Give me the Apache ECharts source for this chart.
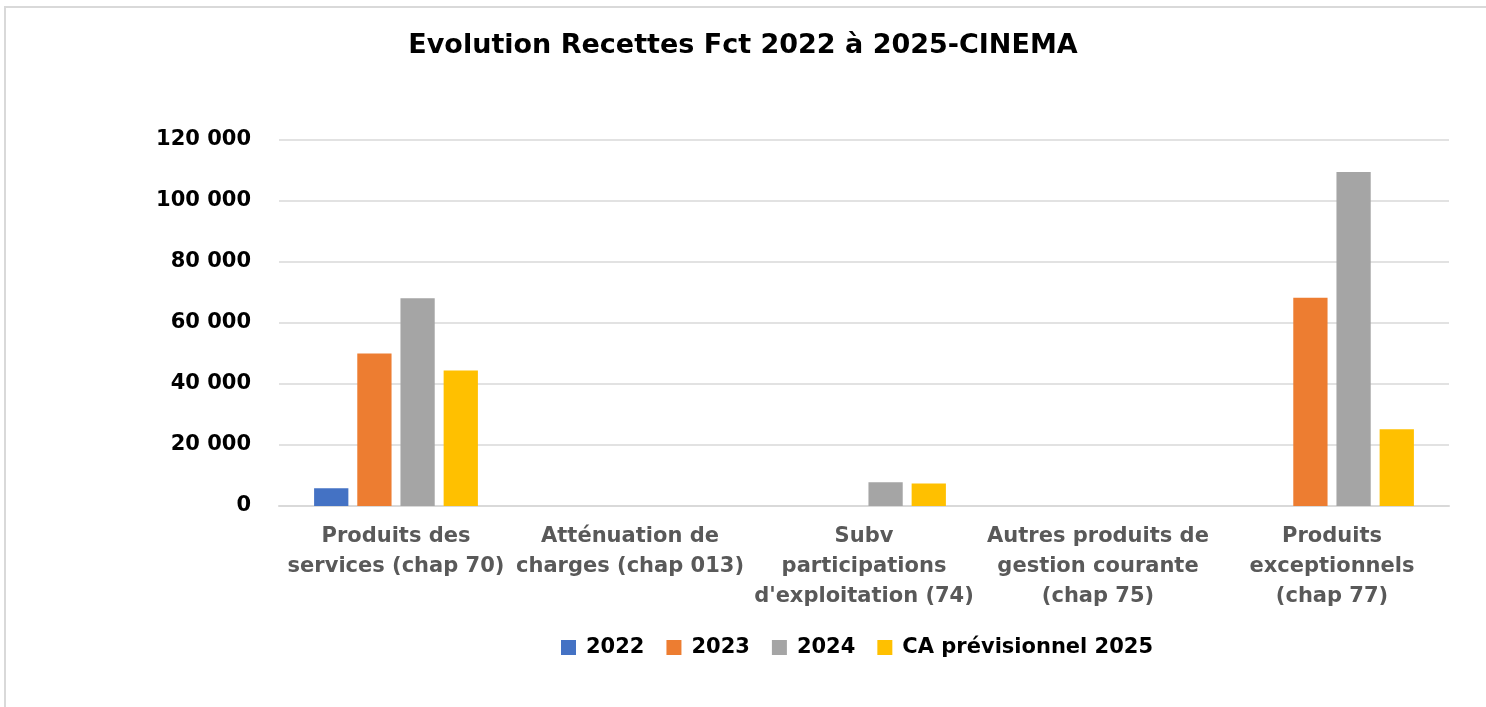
<!DOCTYPE html>
<html>
<head>
<meta charset="utf-8">
<script src="https://cdn.jsdelivr.net/npm/echarts@6/dist/echarts.min.js"></script>
<style>
  html, body { margin: 0; padding: 0; background: #fff; }
  #chart { width: 1486px; height: 707px; }
</style>
</head>
<body>
<div id="chart"></div>
<script>
// categories and values
var categories = [
    'Produits des\nservices (chap 70)',
    'Atténuation de\ncharges (chap 013)',
    'Subv\nparticipations\nd\'exploitation (74)',
    'Autres produits de\ngestion courante\n(chap 75)',
    'Produits\nexceptionnels\n(chap 77)'
];
var seriesNames = ['2022', '2023', '2024', 'CA prévisionnel 2025'];
var values2022 = [5800, 0, 0, 0, 0];
var values2023 = [50000, 0, 0, 0, 68300];
var values2024 = [68100, 0, 7800, 0, 109500];
var values2025 = [44400, 0, 7400, 0, 25200];
var colors = ['#4472C4', '#ED7D31', '#A5A5A5', '#FFC000'];

var chart = echarts.init(document.getElementById('chart'));

function fmt(v) {
    return String(v).replace(/\B(?=(\d{3})+(?!\d))/g, ' ');
}

var allValues = [values2022, values2023, values2024, values2025];
var series = seriesNames.map(function (name, i) {
    return {
        name: name,
        type: 'bar',
        data: allValues[i],
        barGap: '26%',
        barCategoryGap: '30%',
        itemStyle: { color: colors[i] }
    };
});

var font = 'DejaVu Sans';

var option = {
    animation: false,
    textStyle: { fontFamily: font },
    title: {
        text: 'Evolution Recettes Fct 2022 à 2025-CINEMA',
        left: 'center',
        top: 27,
        textStyle: { fontSize: 27, fontWeight: 'bold', color: '#000', fontFamily: font }
    },
    legend: {
        data: seriesNames,
        left: 561,
        top: 637,
        padding: 0,
        itemWidth: 15,
        itemHeight: 15,
        itemGap: 22,
        icon: 'rect',
        textStyle: { fontSize: 21, fontWeight: 'bold', color: '#000', fontFamily: font, padding: [0, 0, 0, 5] }
    },
    grid: { left: 279, right: 37, top: 140, bottom: 201 },
    xAxis: {
        type: 'category',
        data: categories,
        axisTick: { show: false },
        axisLine: { lineStyle: { color: '#d9d9d9', width: 2 } },
        axisLabel: {
            interval: 0,
            margin: 16,
            fontSize: 21,
            lineHeight: 30,
            fontWeight: 'bold',
            fontFamily: font,
            color: '#595959'
        }
    },
    yAxis: {
        type: 'value',
        min: 0,
        max: 120000,
        interval: 20000,
        axisLine: { show: false },
        axisTick: { show: false },
        splitLine: { lineStyle: { color: '#d9d9d9', width: 1.5 } },
        axisLabel: {
            margin: 28,
            fontSize: 21,
            fontWeight: 'bold',
            fontFamily: font,
            color: '#000',
            formatter: fmt
        }
    },
    graphic: [{
        type: 'rect',
        shape: { x: 5, y: 7, width: 1500, height: 720 },
        style: { fill: 'none', stroke: '#d9d9d9', lineWidth: 2 },
        silent: true
    }],
    series: series
};
chart.setOption(option);
</script>
</body>
</html>
